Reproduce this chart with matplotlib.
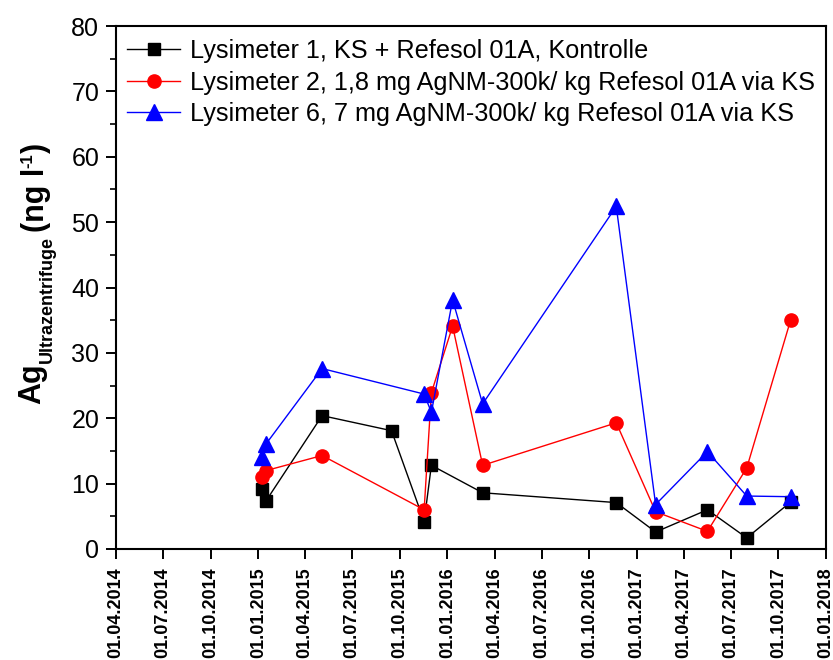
"""
Ag concentration (ultracentrifuge fraction) in lysimeter leachate
"""

import matplotlib
matplotlib.use("Agg")
import matplotlib.pyplot as plt
import matplotlib.dates as mdates
from matplotlib.ticker import MultipleLocator
import pandas as pd

plt.rcParams["font.family"] = ["Liberation Sans", "DejaVu Sans"]

# sampling dates and measured values
dates_l1 = pd.to_datetime([
    "2015-01-08", "2015-01-16", "2015-05-04", "2015-09-15", "2015-11-17", "2015-12-01",
    "2016-03-09", "2016-11-22", "2017-02-06", "2017-05-17", "2017-08-01", "2017-10-25",
])
ag_l1 = [9.2, 7.4, 20.4, 18.1, 4.2, 12.8, 8.6, 7.1, 2.6, 6.0, 1.7, 7.2]

dates_l2 = pd.to_datetime([
    "2015-01-08", "2015-01-16", "2015-05-04", "2015-11-17", "2015-12-01", "2016-01-11",
    "2016-03-09", "2016-11-22", "2017-02-06", "2017-05-17", "2017-08-01", "2017-10-25",
])
ag_l2 = [11.0, 12.0, 14.3, 6.0, 23.9, 34.1, 12.8, 19.3, 5.7, 2.7, 12.4, 35.1]

dates_l6 = dates_l2
ag_l6 = [14.1, 16.1, 27.6, 23.7, 20.9, 38.1, 22.2, 52.4, 6.8, 14.9, 8.1, 8.0]

labels = [
    "Lysimeter 1, KS + Refesol 01A, Kontrolle",
    "Lysimeter 2, 1,8 mg AgNM-300k/ kg Refesol 01A via KS",
    "Lysimeter 6, 7 mg AgNM-300k/ kg Refesol 01A via KS",
]

W, H = 833, 660
fig = plt.figure(figsize=(W / 100, H / 100), dpi=100)
ax = fig.add_axes([116 / W, 1 - 549 / H, (826 - 116) / W, (549 - 26) / H])

ax.plot(dates_l1, ag_l1, color="black", lw=1.0, marker="s", ms=8.5, label=labels[0])
ax.plot(dates_l2, ag_l2, color="red", lw=1.0, marker="o", ms=9.5, label=labels[1])
ax.plot(dates_l6, ag_l6, color="blue", lw=1.0, marker="^", ms=11.5, label=labels[2])

ax.set_xlim(pd.Timestamp("2014-04-01"), pd.Timestamp("2018-01-01"))
ax.set_ylim(0, 80)

ax.xaxis.set_major_locator(mdates.MonthLocator(bymonth=[1, 4, 7, 10]))
ax.xaxis.set_major_formatter(mdates.DateFormatter("%d.%m.%Y"))
ax.yaxis.set_major_locator(MultipleLocator(10))
ax.yaxis.set_minor_locator(MultipleLocator(5))

for s in ax.spines.values():
    s.set_linewidth(1.5)
ax.tick_params(which="major", direction="out", length=7, width=1.4)
ax.tick_params(which="minor", direction="out", length=4, width=1.2)
ax.tick_params(axis="y", labelsize=18, pad=5)
ax.tick_params(axis="x", labelsize=13, pad=6)
for lbl in ax.get_xticklabels():
    lbl.set_rotation(90)
    lbl.set_fontweight("bold")

ax.legend(loc="upper left", bbox_to_anchor=(0.0155, 0.975), frameon=False,
          fontsize=18.2, borderpad=0, borderaxespad=0, handlelength=2.1,
          handletextpad=0.4, labelspacing=0.3)

# y label built from pieces (small subscript / superscript), stacked upward
fig.canvas.draw()
renderer = fig.canvas.get_renderer()
ykw = dict(rotation=90, rotation_mode="anchor", ha="left", va="baseline",
           fontweight="bold", transform=None)
pieces = [
    ("Ag", 22, 40, 0),
    ("Ultrazentrifuge", 13, 52, 4),
    ("(ng l", 22, 44, 0),
    ("-1", 12, 32, 0),
    (")", 22, 44, 1),
]
y = H - 404
for txt, size, x, gap in pieces:
    t = fig.text(x, y, txt, fontsize=size, **ykw)
    y += t.get_window_extent(renderer).height + gap

fig.savefig("out.png", dpi=100)
